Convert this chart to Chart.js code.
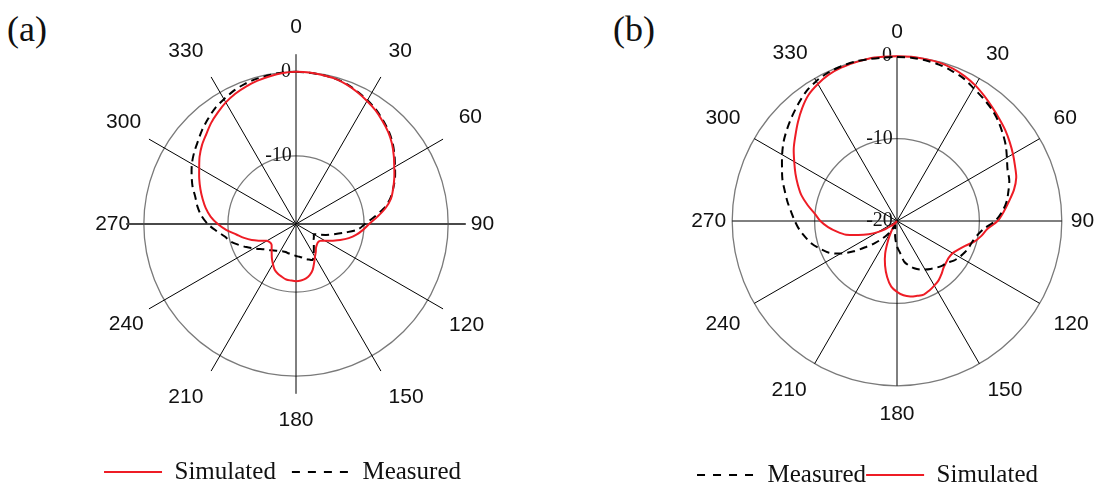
<!DOCTYPE html>
<html>
<head>
<meta charset="utf-8">
<script src="https://cdn.jsdelivr.net/npm/chart.js@4.4.1/dist/chart.umd.min.js"></script>
<style>
  body { margin: 0; width: 1107px; height: 487px; overflow: hidden; background: #fff; position: relative; }
  .tag { position: absolute; font: 36px "Liberation Serif", "Times New Roman", serif; color: #111; line-height: 1; }
  .box { position: absolute; top: 0; width: 460px; height: 487px; }
</style>
</head>
<body>
<div class="tag" style="left:7px;top:11px">(a)</div>
<div class="tag" style="left:613px;top:11px">(b)</div>
<div class="box" style="left:66px"><canvas id="chartA"></canvas></div>
<div class="box" style="left:665px"><canvas id="chartB"></canvas></div>
<script>
// angle in degrees, 5 degree steps, clockwise from the top
const angleLabels = ['0','5','10','15','20','25','30','35','40','45','50','55',
  '60','65','70','75','80','85','90','95','100','105','110','115',
  '120','125','130','135','140','145','150','155','160','165','170','175',
  '180','185','190','195','200','205','210','215','220','225','230','235',
  '240','245','250','255','260','265','270','275','280','285','290','295',
  '300','305','310','315','320','325','330','335','340','345','350','355'];

// (a) normalised pattern, dB
const simA = [0, -0.02, -0.1, -0.2, -0.45, -0.8, -1.2, -1.6, -2.1, -2.6, -3.2, -3.9,
  -4.6, -5.2, -5.8, -6.4, -7.3, -8.4, -9.4, -10.1, -10.8, -11.6, -12.5, -13.4,
  -14.1, -14.6, -14.7, -14.6, -14.4, -14.0, -13.6, -13.0, -12.3, -11.8, -11.5, -11.35,
  -11.3, -11.35, -11.4, -11.6, -11.8, -12.1, -12.6, -13.1, -13.6, -14.0, -14.3, -14.3,
  -14.1, -13.4, -12.5, -11.7, -10.9, -9.8, -8.8, -7.9, -7.2, -6.6, -6.0, -5.4,
  -4.8, -4.1, -3.5, -3.0, -2.4, -1.9, -1.4, -1.0, -0.7, -0.45, -0.25, -0.08];
const measA = [0, -0.05, -0.1, -0.2, -0.4, -0.75, -1.1, -1.5, -2.0, -2.5, -3.1, -3.8,
  -4.5, -5.1, -5.8, -6.5, -7.5, -8.8, -9.9, -10.7, -12.2, -13.4, -14.3, -15.1,
  -15.65, -15.5, -15.35, -15.1, -14.8, -14.4, -13.9, -13.4, -13.6, -13.8, -14.05, -14.2,
  -14.3, -14.4, -14.5, -14.5, -14.55, -14.5, -14.35, -14.2, -14.0, -13.7, -13.4, -12.9,
  -12.3, -11.6, -10.85, -10.05, -9.5, -8.6, -7.6, -6.8, -6.2, -5.7, -5.0, -4.4,
  -3.8, -3.3, -2.85, -2.3, -1.8, -1.3, -0.95, -0.6, -0.35, -0.2, -0.1, 0];

// (b) normalised pattern, dB
const simB = [0, 0, -0.05, -0.1, -0.3, -0.6, -1.0, -1.5, -2.0, -2.45, -2.85, -3.3,
  -3.75, -4.2, -4.6, -5.3, -6.2, -7.0, -7.8, -9.0, -9.6, -10.3, -11.2, -11.8,
  -12.2, -12.3, -12.2, -12.0, -11.6, -11.2, -10.95, -10.7, -10.5, -10.6, -10.7, -10.95,
  -11.4, -12.0, -13.1, -14.4, -15.8, -17.5, -18.8, -19.5, -19.9, -19.7, -19.1, -18.3,
  -17.3, -16.2, -15.0, -13.6, -12.6, -11.6, -10.7, -10.0, -9.0, -8.0, -7.2, -6.4,
  -5.6, -4.7, -3.9, -3.0, -2.1, -1.3, -0.8, -0.4, -0.2, -0.1, 0, 0];
const measB = [-0.1, -0.1, -0.2, -0.35, -0.6, -0.9, -1.4, -1.8, -2.2, -2.7, -3.3, -3.9,
  -4.6, -5.2, -5.5, -6.0, -6.5, -7.2, -8.1, -9.4, -10.1, -10.5, -10.7, -10.95,
  -11.25, -11.6, -12.1, -12.3, -12.6, -12.9, -13.2, -13.5, -13.9, -14.4, -15.0, -16.2,
  -16.9, -17.8, -18.6, -19.2, -19.4, -19.3, -18.8, -18.0, -17.2, -16.2, -15.1, -13.6,
  -12.1, -10.9, -10.1, -9.3, -8.7, -8.1, -7.6, -7.1, -6.5, -5.9, -5.2, -4.6,
  -3.9, -3.2, -2.6, -2.0, -1.4, -0.8, -0.4, -0.15, -0.05, 0, -0.05, -0.1];

// radial axis: [centre, rim] and the labelled rings
const rangeA = [-18.1, 2.1];
const ringsA = [-10, 0];
const rangeB = [-20, 0];
const ringsB = [-20, -10, 0];

const seriesNames = ['Simulated', 'Measured'];

const RED = '#ee1c25';
const sansFont = '"Liberation Sans", Arial, sans-serif';
const serifFont = '"Liberation Serif", "Times New Roman", serif';

// moves the legend block sideways / down without touching the plot area
const legendNudge = {
    id: 'legendNudge',
    afterLayout(chart, args, opts) {
        const lg = chart.legend;
        if (!lg) return;
        lg.left += opts.dx; lg.right += opts.dx;
        lg.top += opts.dy; lg.bottom += opts.dy;
    }
};

// labelGap: distance of each 30 degree label from the rim (0, 30, ... 330)
const polarScale = (range, rings, labelGap, horizColor, horizWidth) => ({
    min: range[0],
    max: range[1],
    startAngle: 0,
    afterBuildTicks: scale => {
        scale.ticks = rings.map(v => ({ value: v }));
    },
    grid: { circular: true, color: '#7a7a7a', lineWidth: 1.3 },
    angleLines: {
        color: c => (c.index % 36 === 18 ? horizColor : '#000'),
        lineWidth: c => (c.index % 6 !== 0 ? 0 : (c.index % 36 === 18 ? horizWidth : 1))
    },
    pointLabels: {
        font: { family: sansFont, size: 21 },
        color: '#111',
        padding: c => (c.index % 6 === 0 ? labelGap[c.index / 6] : 0),
        callback: (label, i) => (i % 6 === 0 ? label : '')
    },
    ticks: {
        color: '#111',
        font: { family: serifFont, size: 20 },
        showLabelBackdrop: false,
        backdropPadding: 2,
        // trailing spaces push the centred text to the left of the 0 deg spoke
        callback: v => String(v) + (v === 0 ? '    ' : '       ')
    }
});

const legendLabels = (gap) => ({
    usePointStyle: true,
    pointStyle: 'line',
    pointStyleWidth: 58,
    padding: gap,
    color: '#111',
    font: { family: serifFont, size: 25 },
    generateLabels(chart) {
        const items = Chart.defaults.plugins.legend.labels.generateLabels(chart);
        items.forEach(it => {
            const ds = chart.data.datasets[it.datasetIndex];
            it.lineWidth = 2;
            it.strokeStyle = ds.borderColor;
            it.lineDash = ds.borderDash ? [8, 8] : [];
        });
        return items;
    }
});

const simSet = data => ({
    label: seriesNames[0], data: data, borderColor: RED, backgroundColor: RED,
    borderWidth: 2, pointRadius: 0, fill: false, tension: 0.3
});
const measSet = data => ({
    label: seriesNames[1], data: data, borderColor: '#000', backgroundColor: '#000',
    borderWidth: 2, borderDash: [8, 5], pointRadius: 0, fill: false, tension: 0.3
});

let chartA = new Chart(document.getElementById('chartA'), {
    type: 'radar',
    data: {
        labels: angleLabels,
        datasets: [simSet(simA), measSet(measA)]
    },
    options: {
        responsive: true,
        maintainAspectRatio: false,
        animation: false,
        events: [],
        layout: { padding: { top: 15, bottom: 2 } },
        scales: { r: polarScale(rangeA, ringsA, [2, 3.4, 6, -7, -5, 3.4, 2, 3.4, -6, -16, -3, 3.4], '#4a4a4a', 2) },
        plugins: {
            legend: { position: 'bottom', labels: legendLabels(16) },
            tooltip: { enabled: false },
            legendNudge: { dx: -13.5, dy: 9.5 }
        }
    },
    plugins: [legendNudge]
});

let chartB = new Chart(document.getElementById('chartB'), {
    type: 'radar',
    data: {
        labels: angleLabels,
        datasets: [measSet(measB), simSet(simB)]
    },
    options: {
        responsive: true,
        maintainAspectRatio: false,
        animation: false,
        events: [],
        layout: { padding: { top: 18, bottom: 22 } },
        scales: { r: polarScale(rangeB, ringsB, [-1, 1, 4, -3, 4, 4, 4, 4, 4, -6, 4, 2], '#000', 1) },
        plugins: {
            legend: { position: 'bottom', labels: legendLabels(0) },
            tooltip: { enabled: false },
            legendNudge: { dx: -27.5, dy: 32.5 }
        }
    },
    plugins: [legendNudge]
});
</script>
</body>
</html>
